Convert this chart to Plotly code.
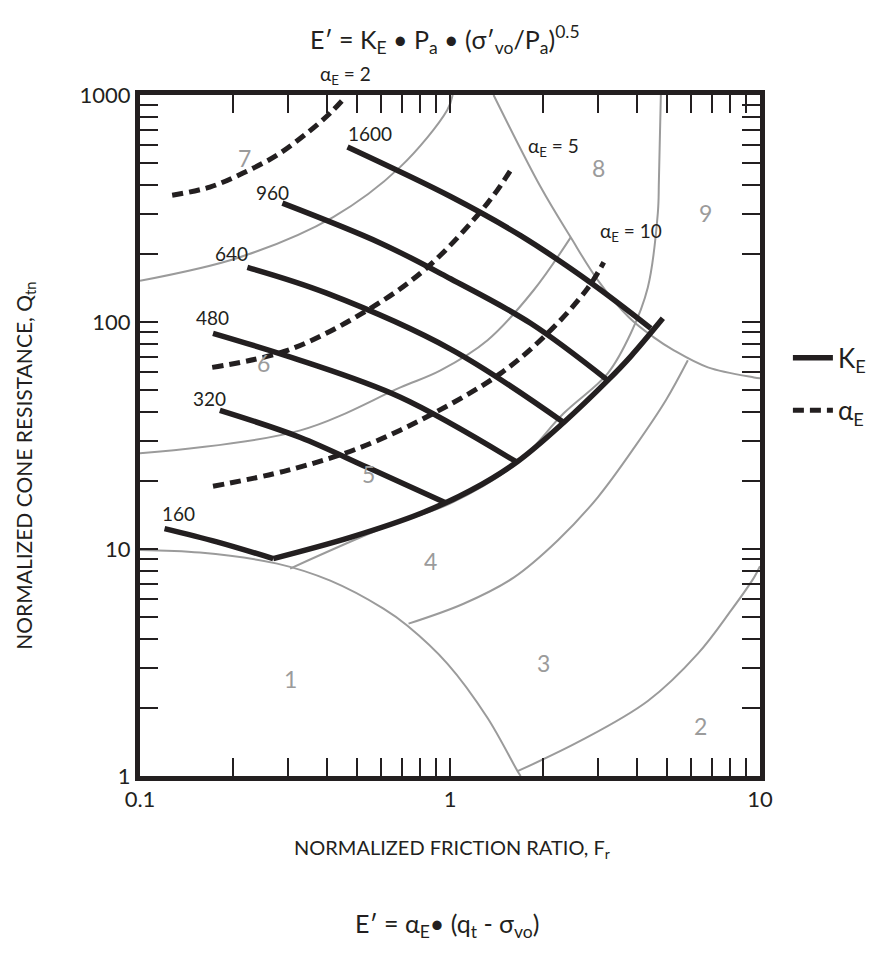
import math
import plotly.graph_objects as go

# ---------------- data ----------------
# Soil-behaviour-type zone boundaries (grey): Fr (%) and Qtn
zone67_fr = [0.10, 0.21, 0.42, 0.69, 0.98, 1.02]
zone67_q = [152, 193, 290, 481, 859, 1000]

zone56_fr = [0.10, 0.329, 0.692, 0.932, 1.322, 1.861, 2.451]
zone56_q = [26.4, 33.3, 51.5, 61.2, 83.1, 138, 236]

zone8_fr = [1.382, 1.961, 2.451, 2.997, 3.774, 4.545, 5.274, 6.792, 9.561, 10.0]
zone8_q = [1000, 393, 236, 153, 105, 85.6, 75.0, 63.1, 57.0, 56.5]

zone45_fr = [4.788, 4.72, 4.682, 4.346, 3.83, 3.228, 2.327, 1.65, 1.004, 0.610, 0.305]
zone45_q = [1000, 422, 302, 142, 89.2, 59.4, 39.6, 24.0, 15.9, 12.4, 8.2]

zone1_fr = [0.10, 0.156, 0.277, 0.411, 0.610, 0.729, 0.982, 1.322, 1.652, 1.69]
zone1_q = [9.9, 9.64, 8.62, 7.25, 5.46, 4.59, 3.12, 1.80, 1.05, 1.0]

zone34_fr = [0.735, 1.106, 1.604, 2.225, 2.997, 3.975, 4.97, 5.851]
zone34_q = [4.69, 5.74, 7.48, 10.9, 16.9, 28.6, 45.2, 67.8]

zone23_fr = [1.652, 2.640, 4.346, 6.304, 8.057, 9.561, 10.0]
zone23_q = [1.05, 1.43, 2.14, 3.46, 5.35, 7.48, 8.4]

zone_names = ["1", "2", "3", "4", "5", "6", "7", "8", "9"]
zone_fr = [0.305, 6.45, 2.0, 0.865, 0.546, 0.250, 0.218, 3.02, 6.69]
zone_q = [2.68, 1.66, 3.15, 8.89, 21.5, 65.7, 527, 476, 302]

# K_E contours (solid black)
ke_names = ["160", "320", "480", "640", "960", "1600"]
ke_fr = [
    [0.120, 0.177, 0.269],
    [0.181, 0.329, 0.541, 0.967],
    [0.172, 0.329, 0.692, 1.628],
    [0.222, 0.400, 1.004, 2.327],
    [0.288, 0.600, 1.004, 1.820, 3.228],
    [0.467, 1.004, 1.690, 2.845, 4.445],
]
ke_q = [
    [12.3, 10.75, 9.07],
    [40.8, 31.0, 22.9, 16.0],
    [89.2, 67.8, 46.6, 24.3],
    [174, 134, 76, 36.1],
    [334, 222, 155, 98.7, 55.3],
    [590, 357, 240, 149, 93.8],
]
ke_label_fr = [0.133, 0.168, 0.171, 0.198, 0.267, 0.554]
ke_label_q = [14.3, 46.1, 104.9, 200.9, 373.4, 679.8]

# Lower limit of K_E contours (solid black)
kelim_fr = [0.269, 0.477, 0.803, 1.165, 1.652, 2.327, 3.228, 3.83, 4.86]
kelim_q = [9.07, 11.25, 14.33, 18.1, 24.3, 36.1, 55.3, 70.6, 103.8]

# alpha_E contours (dashed black)
ae_names = ["2", "5", "10"]
ae_fr = [
    [0.127, 0.168, 0.215, 0.277, 0.346, 0.411, 0.460],
    [0.171, 0.299, 0.541, 0.846, 1.322, 1.592],
    [0.172, 0.299, 0.514, 0.885, 1.456, 2.065, 2.781, 3.133],
]
ae_q = [
    [362, 393, 453, 544, 680, 833, 980],
    [63.1, 75.0, 112.6, 174.3, 334, 481],
    [18.9, 22.2, 28.0, 39.6, 59.4, 89.2, 140.8, 183.4],
]
ae_label_fr = [0.460, 2.16, 3.83]
ae_label_q = [1225, 590, 249]

x_tickvals = [0.1, 1, 10]
x_ticktext = ["0.1", "1", "10"]
y_tickvals = [1, 10, 100, 1000]
y_ticktext = ["1", "10", "100", "1000"]
x_minor = [0.2, 0.3, 0.4, 0.5, 0.6, 0.7, 0.8, 0.9, 2, 3, 4, 5, 6, 7, 8, 9]
y_minor = [2, 3, 4, 5, 6, 7, 8, 9, 20, 30, 40, 50, 60, 70, 80, 90,
           200, 300, 400, 500, 600, 700, 800, 900]

# ---------------- styling ----------------
INK = "#231f20"
GREY = "#9b9b9b"
FONT = "Lato"

fig = go.Figure()

for fr, q in [(zone67_fr, zone67_q), (zone56_fr, zone56_q), (zone8_fr, zone8_q),
              (zone45_fr, zone45_q), (zone1_fr, zone1_q), (zone34_fr, zone34_q),
              (zone23_fr, zone23_q)]:
    fig.add_trace(go.Scatter(x=fr, y=q, mode="lines", showlegend=False,
                             hoverinfo="skip",
                             line=dict(color=GREY, width=2, shape="spline")))

for i, (fr, q) in enumerate(zip(ae_fr, ae_q)):
    fig.add_trace(go.Scatter(x=fr, y=q, mode="lines", name="α<sub>E</sub>",
                             showlegend=(i == 0), legend="legend2",
                             line=dict(color=INK, width=5, dash="11px,6px",
                                       shape="spline")))

for i, (fr, q) in enumerate(zip(ke_fr, ke_q)):
    fig.add_trace(go.Scatter(x=fr, y=q, mode="lines", name="K<sub>E</sub>",
                             showlegend=(i == 0), legend="legend",
                             line=dict(color=INK, width=5.5, shape="spline",
                                       smoothing=1.0)))

fig.add_trace(go.Scatter(x=kelim_fr, y=kelim_q, mode="lines", showlegend=False,
                         line=dict(color=INK, width=5.5, shape="spline",
                                   smoothing=1.0)))

ann = []
for name, fr, q in zip(zone_names, zone_fr, zone_q):
    ann.append(dict(x=math.log10(fr), y=math.log10(q), text=name, showarrow=False,
                    font=dict(size=23, color=GREY, family=FONT)))
for name, fr, q in zip(ke_names, ke_label_fr, ke_label_q):
    ann.append(dict(x=math.log10(fr), y=math.log10(q), text=name, showarrow=False,
                    font=dict(size=19, color=INK, family=FONT)))
for name, fr, q in zip(ae_names, ae_label_fr, ae_label_q):
    if q > 1000:
        # label sits above the plotting frame
        ann.append(dict(x=math.log10(fr), yref="paper", y=1.029,
                        xanchor="center", yanchor="middle",
                        text="α<sub>E</sub> = " + name, showarrow=False,
                        font=dict(size=19, color=INK, family=FONT)))
    else:
        ann.append(dict(x=math.log10(fr), y=math.log10(q),
                        text="α<sub>E</sub> = " + name, showarrow=False,
                        font=dict(size=19, color=INK, family=FONT)))

ann.append(dict(xref="paper", yref="paper", x=0.492, y=1.081,
                xanchor="center", yanchor="middle",
                text="E′ = K<sub>E</sub> • P<sub>a</sub> • (σ′<sub>vo</sub>/P<sub>a</sub>)<sup>0.5</sup>",
                showarrow=False, font=dict(size=25, color=INK, family=FONT)))
ann.append(dict(xref="paper", yref="paper", x=0.495, y=-0.219,
                xanchor="center", yanchor="middle",
                text="E′ = α<sub>E</sub>• (q<sub>t</sub> - σ<sub>vo</sub>)",
                showarrow=False, font=dict(size=25, color=INK, family=FONT)))
ann.append(dict(xref="paper", yref="paper", x=0.503, y=-0.106,
                xanchor="center", yanchor="middle",
                text="NORMALIZED FRICTION RATIO, F<sub>r</sub>",
                showarrow=False, font=dict(size=20, color=INK, family=FONT)))
ann.append(dict(xref="paper", yref="paper", x=-0.186, y=0.455,
                xanchor="center", yanchor="middle", textangle=-90,
                text="NORMALIZED CONE RESISTANCE, Q<sub>tn</sub>",
                showarrow=False, font=dict(size=21, color=INK, family=FONT)))

axis_common = dict(type="log", ticks="inside", ticklen=18, tickwidth=1.5,
                   tickcolor=INK, showline=True, linewidth=5, linecolor=INK,
                   mirror="ticks", showgrid=False, zeroline=False,
                   tickfont=dict(size=22, color=INK, family=FONT))

fig.update_layout(
    width=891, height=959,
    margin=dict(l=132, r=139, t=87, b=191),
    plot_bgcolor="white", paper_bgcolor="white",
    font=dict(family=FONT, color=INK),
    xaxis=dict(range=[-1, 1], tickvals=x_tickvals, ticktext=x_ticktext,
               minor=dict(tickvals=x_minor, ticks="inside", ticklen=18,
                          tickwidth=1.5, tickcolor=INK, showgrid=False),
               **axis_common),
    yaxis=dict(range=[0, 3], tickvals=y_tickvals, ticktext=y_ticktext,
               minor=dict(tickvals=y_minor, ticks="inside", ticklen=18,
                          tickwidth=1.5, tickcolor=INK, showgrid=False),
               **axis_common),
    annotations=ann,
    legend=dict(x=1.045, y=0.614, xanchor="left", yanchor="middle",
                font=dict(size=26, color=INK, family=FONT),
                bgcolor="rgba(0,0,0,0)", itemwidth=40),
    legend2=dict(x=1.045, y=0.537, xanchor="left", yanchor="middle",
                 font=dict(size=26, color=INK, family=FONT),
                 bgcolor="rgba(0,0,0,0)", itemwidth=40),
)

fig.write_html("out.html")
